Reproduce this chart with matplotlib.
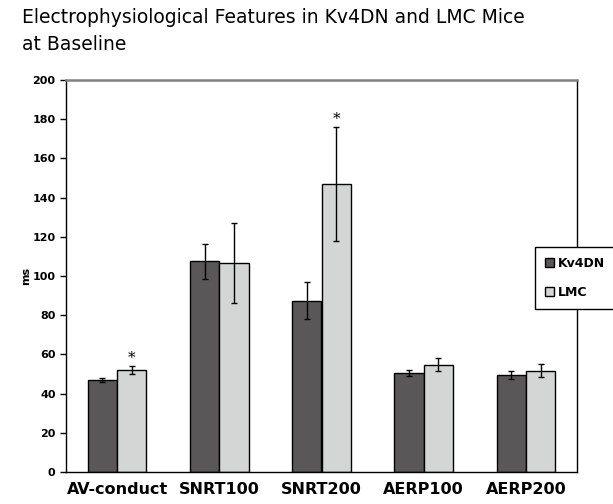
import matplotlib
matplotlib.use("Agg")
import matplotlib.pyplot as plt
import numpy as np

categories = ["AV-conduct", "SNRT100", "SNRT200", "AERP100", "AERP200"]
kv4dn = [47.0, 107.5, 87.5, 50.5, 49.4]
kv4dn_err = [1.0, 9.0, 9.5, 1.3, 2.0]
lmc = [52.0, 106.5, 147.0, 54.7, 51.7]
lmc_err = [2.0, 20.5, 29.0, 3.4, 3.2]
significant = [True, False, True, False, False]
series_names = ["Kv4DN", "LMC"]
yticks = [0, 20, 40, 60, 80, 100, 120, 140, 160, 180, 200]

fig = plt.figure(figsize=(6.13, 5.04), dpi=100)
ax = fig.add_axes([66/613, 32/504, (577-66)/613, (472-80)/504])

x = np.arange(len(categories))
w = 0.287
ax.bar(x - w/2, kv4dn, w, color="#595757", edgecolor="black", linewidth=1,
       label=series_names[0], zorder=2)
ax.bar(x + w/2, lmc, w, color="#d4d6d5", edgecolor="black", linewidth=1,
       label=series_names[1], zorder=2)
ax.errorbar(x - w/2, kv4dn, yerr=kv4dn_err, fmt="none", ecolor="black",
            elinewidth=1, capsize=2.5, capthick=1, zorder=3)
ax.errorbar(x + w/2, lmc, yerr=lmc_err, fmt="none", ecolor="black",
            elinewidth=1, capsize=2.5, capthick=1, zorder=3)

for i, s in enumerate(significant):
    if s:
        ax.annotate("*", xy=(x[i] + w/2, lmc[i] + lmc_err[i]), xytext=(0, 1),
                    textcoords="offset points", ha="center", va="bottom",
                    fontsize=11, family="DejaVu Serif")

ax.set_xlim(-0.5, len(categories) - 0.5)
ax.set_ylim(0, 200)
ax.set_yticks(yticks)
ax.set_yticklabels([str(t) for t in yticks], fontsize=8, fontweight="bold")
ax.set_xticks(x)
ax.set_xticklabels(categories, fontsize=11.5, fontweight="bold")
ax.tick_params(axis="x", length=0, pad=7)
ax.tick_params(axis="y", length=4, direction="out", width=1)
ax.set_ylabel("ms", fontsize=8, fontweight="bold", labelpad=1)

for sp in ["left", "right", "bottom"]:
    ax.spines[sp].set_color("black")
    ax.spines[sp].set_linewidth(1)
ax.spines["top"].set_color("#808080")
ax.spines["top"].set_linewidth(1.8)

fig.text(22/613, 1 - 8/504, "Electrophysiological Features in Kv4DN and LMC Mice\nat Baseline",
         ha="left", va="top", fontsize=13.5, linespacing=1.5)

leg = fig.legend(loc="upper left", bbox_to_anchor=(535/613, 1 - 247/504),
                 frameon=True, fancybox=False, edgecolor="black",
                 prop={"size": 9, "weight": "bold"},
                 handlelength=0.75, handleheight=0.75, handletextpad=0.3,
                 labelspacing=1.3, borderpad=0.8, borderaxespad=0)
leg.get_frame().set_linewidth(1)
leg.get_frame().set_alpha(1)

fig.savefig("out.png", dpi=100)
